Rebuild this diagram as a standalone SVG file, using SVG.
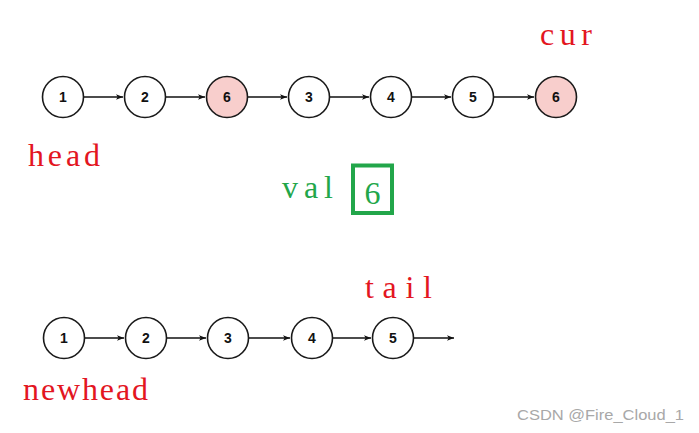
<svg xmlns="http://www.w3.org/2000/svg" width="699" height="433" viewBox="0 0 699 433">
<style>
.n circle{fill:#fff;stroke:#1a1a1a;stroke-width:1.6}
.n.p circle{fill:#f8cecc}
.n text{font-family:"Liberation Sans",Arial,sans-serif;font-weight:bold;font-size:14px;fill:#111;text-anchor:middle}
.c line{stroke:#111;stroke-width:1.4;marker-end:url(#ah)}
.lbl{font-family:"Liberation Serif","Noto Serif",serif;font-size:32px;fill:#e3161f}
.g{fill:#22a64a}
</style>
<defs>
<marker id="ah" viewBox="0 0 10 10" refX="10" refY="5" markerWidth="7" markerHeight="7" markerUnits="userSpaceOnUse" orient="auto">
<path d="M0,1 L10,5 L0,9 L2.5,5 Z" fill="#111"/>
</marker>
</defs>
<rect width="699" height="433" fill="#fff"/>
<g class="c" id="connectors">
<line x1="84" y1="97" x2="123" y2="97"/>
<line x1="166" y1="97" x2="205" y2="97"/>
<line x1="248" y1="97" x2="287" y2="97"/>
<line x1="330" y1="97" x2="369" y2="97"/>
<line x1="412" y1="97" x2="451" y2="97"/>
<line x1="494" y1="97" x2="534" y2="97"/>
<line x1="85" y1="338" x2="124" y2="338"/>
<line x1="167" y1="338" x2="206" y2="338"/>
<line x1="249" y1="338" x2="290" y2="338"/>
<line x1="333" y1="338" x2="371" y2="338"/>
<line x1="414" y1="338" x2="454" y2="338"/>
</g>
<g class="n" id="t1"><circle cx="63" cy="97" r="20.5"/><text x="63" y="102">1</text></g>
<g class="n" id="t2"><circle cx="145" cy="97" r="20.5"/><text x="145" y="102">2</text></g>
<g class="n p" id="t3"><circle cx="227" cy="97" r="20.5"/><text x="227" y="102">6</text></g>
<g class="n" id="t4"><circle cx="309" cy="97" r="20.5"/><text x="309" y="102">3</text></g>
<g class="n" id="t5"><circle cx="391" cy="97" r="20.5"/><text x="391" y="102">4</text></g>
<g class="n" id="t6"><circle cx="473" cy="97" r="20.5"/><text x="473" y="102">5</text></g>
<g class="n p" id="t7"><circle cx="556" cy="97" r="20.5"/><text x="556" y="102">6</text></g>
<g class="n" id="b1"><circle cx="64" cy="338" r="20.5"/><text x="64" y="343">1</text></g>
<g class="n" id="b2"><circle cx="146" cy="338" r="20.5"/><text x="146" y="343">2</text></g>
<g class="n" id="b3"><circle cx="228" cy="338" r="20.5"/><text x="228" y="343">3</text></g>
<g class="n" id="b4"><circle cx="312" cy="338" r="20.5"/><text x="312" y="343">4</text></g>
<g class="n" id="b5"><circle cx="393" cy="338" r="20.5"/><text x="393" y="343">5</text></g>
<g id="labels">
<text class="lbl" x="540" y="45" textLength="52" lengthAdjust="spacing">cur</text>
<text class="lbl" x="28" y="166" textLength="72" lengthAdjust="spacing">head</text>
<text class="lbl g" x="282" y="198" textLength="51" lengthAdjust="spacing">val</text>
<rect x="353" y="165.5" width="39" height="47.5" fill="none" stroke="#22a64a" stroke-width="4"/>
<text class="lbl g" x="372.5" y="204" text-anchor="middle" font-size="32">6</text>
<text class="lbl" x="365" y="298" textLength="67" lengthAdjust="spacing">tail</text>
<text class="lbl" x="23" y="400" textLength="125" lengthAdjust="spacing">newhead</text>
<text x="517" y="420" font-family="Liberation Sans,Arial,sans-serif" font-size="15" fill="#a8a8a8" textLength="167" lengthAdjust="spacingAndGlyphs">CSDN @Fire_Cloud_1</text>
</g>
</svg>
